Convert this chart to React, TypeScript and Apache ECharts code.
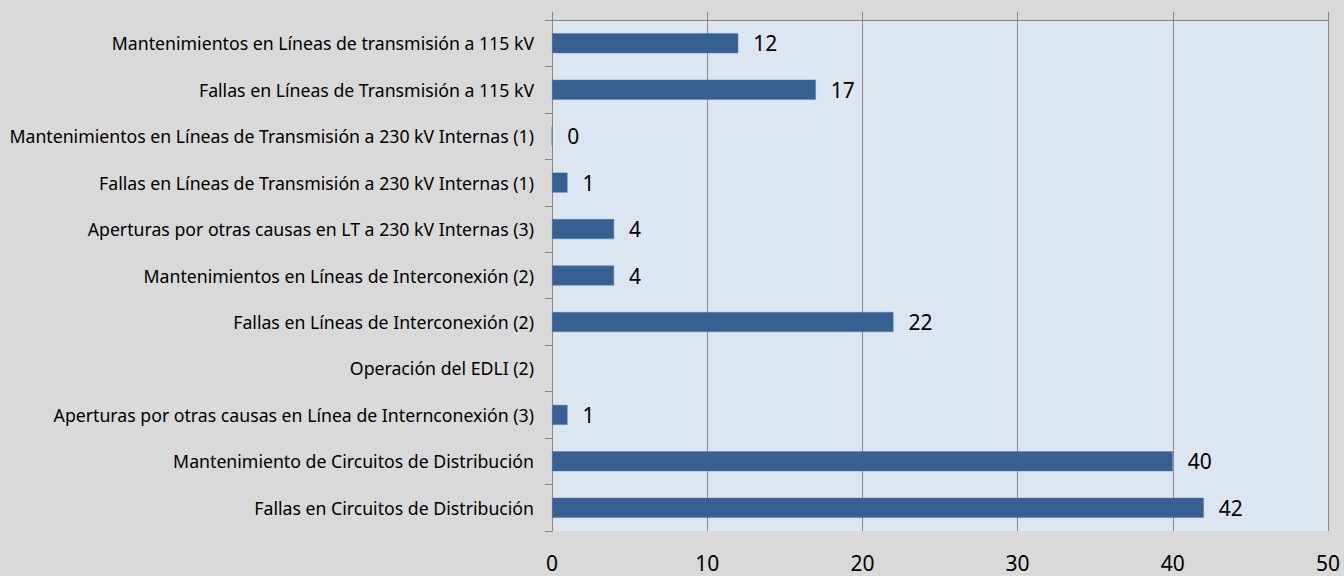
import React, { useEffect, useRef } from "react";
import * as echarts from "echarts";

const categories = [
  "Mantenimientos en Líneas de transmisión a 115 kV",
  "Fallas en Líneas de Transmisión a 115 kV",
  "Mantenimientos en Líneas de Transmisión a 230 kV Internas (1)",
  "Fallas en Líneas de Transmisión a 230 kV Internas (1)",
  "Aperturas por otras causas en LT a 230 kV Internas (3)",
  "Mantenimientos en Líneas de Interconexión (2)",
  "Fallas en Líneas de Interconexión (2)",
  "Operación del EDLI (2)",
  "Aperturas por otras causas en Línea de Internconexión (3)",
  "Mantenimiento de Circuitos de Distribución",
  "Fallas en Circuitos de Distribución",
];
const values: (number | null)[] = [12, 17, 0, 1, 4, 4, 22, null, 1, 40, 42];
const axisMin = 0;
const axisMax = 50;
const axisStep = 10;

export default function App() {
  const ref = useRef<HTMLDivElement>(null);
  useEffect(() => {
    if (!ref.current) return;
    const chart = echarts.init(ref.current, undefined, { renderer: "svg" });
    const font = "Noto Sans";
    chart.setOption({
      animation: false,
      backgroundColor: "#d9d9d9",
      grid: {
        left: 552,
        right: 16,
        top: 20,
        bottom: 45,
        show: true,
        backgroundColor: "#dce6f2",
        borderWidth: 0,
      },
      xAxis: [
        {
          type: "value",
          position: "top",
          min: axisMin,
          max: axisMax,
          interval: axisStep,
          axisLine: { show: true, lineStyle: { color: "#868686", width: 1 } },
          axisTick: { show: true, length: 8, lineStyle: { color: "#868686" } },
          axisLabel: { show: false },
          splitLine: { show: true, lineStyle: { color: "#868686", width: 1 } },
        },
        {
          type: "value",
          position: "bottom",
          min: axisMin,
          max: axisMax,
          interval: axisStep,
          axisLine: { show: false },
          axisTick: { show: false },
          splitLine: { show: false },
          axisLabel: {
            show: true,
            fontFamily: font,
            fontSize: 21,
            lineHeight: 21,
            color: "#000",
            margin: 21,
          },
        },
      ],
      yAxis: {
        type: "category",
        data: categories,
        inverse: true,
        axisLine: { show: true, lineStyle: { color: "#868686", width: 1 } },
        axisTick: { show: true, length: 7, interval: 0, lineStyle: { color: "#868686" } },
        axisLabel: {
          fontFamily: font,
          fontSize: 17.7,
          color: "#000",
          margin: 18,
          interval: 0,
        },
      },
      series: [
        {
          type: "bar",
          data: values,
          xAxisIndex: 0,
          barWidth: 20,
          itemStyle: { color: "#376092", borderColor: "#5b7fb0", borderWidth: 0.5 },
          label: {
            show: true,
            position: "right",
            distance: 15,
            fontFamily: font,
            fontSize: 21,
            color: "#000",
            formatter: (p: any) => (p.value === null || p.value === undefined ? "" : String(p.value)),
          },
        },
      ],
    });
    return () => chart.dispose();
  }, []);
  return <div ref={ref} style={{ width: 1344, height: 576, position: "absolute", left: 0, top: 0 }} />;
}
